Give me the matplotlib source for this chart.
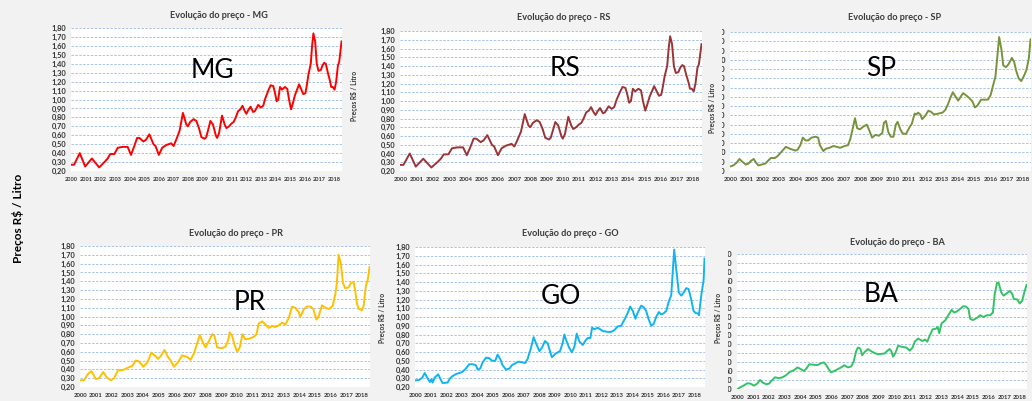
import matplotlib
matplotlib.use("Agg")
import matplotlib.pyplot as plt
from matplotlib.transforms import Bbox, TransformedBbox

W, H = 1032, 401
plt.rcParams['font.family'] = ['Lato', 'DejaVu Sans']

# MG e RS usam a mesma série (os dois gráficos são idênticos)
anos_mg = [0.00, 0.18, 0.57, 0.94, 1.40, 1.90, 2.32, 2.48, 2.66, 2.94, 3.17, 3.51,
           3.85, 4.08, 4.31, 4.50, 4.66, 4.93, 5.11, 5.34, 5.62, 5.76, 5.99, 6.22,
           6.49, 6.83, 7.00, 7.18, 7.41, 7.64, 7.87, 7.98, 8.14, 8.37, 8.56, 8.74,
           8.90, 9.13, 9.24, 9.43, 9.52, 9.70, 9.89, 9.98, 10.11, 10.32, 10.50, 10.62,
           10.80, 10.96, 11.12, 11.26, 11.42, 11.58, 11.72, 11.88, 11.99, 12.11, 12.27, 12.45,
           12.57, 12.80, 12.98, 13.14, 13.30, 13.49, 13.65, 13.83, 13.94, 14.06, 14.17, 14.29,
           14.43, 14.63, 14.79, 14.91, 15.05, 15.16, 15.32, 15.60, 15.73, 15.89, 16.03, 16.12,
           16.24, 16.40, 16.49, 16.58, 16.70, 16.81, 16.93, 17.09, 17.20, 17.32, 17.43, 17.57,
           17.73, 17.80, 17.91, 18.03, 18.14, 18.26, 18.35, 18.42, 18.51]
preco_mg = [0.27, 0.27, 0.40, 0.25, 0.34, 0.24, 0.31, 0.34, 0.39, 0.39, 0.46, 0.47,
            0.47, 0.38, 0.48, 0.57, 0.57, 0.53, 0.55, 0.61, 0.50, 0.48, 0.38, 0.46,
            0.49, 0.51, 0.48, 0.55, 0.65, 0.85, 0.72, 0.70, 0.75, 0.78, 0.76, 0.68,
            0.58, 0.56, 0.58, 0.70, 0.76, 0.72, 0.60, 0.57, 0.62, 0.82, 0.72, 0.68,
            0.70, 0.73, 0.75, 0.80, 0.87, 0.89, 0.93, 0.87, 0.84, 0.88, 0.92, 0.86,
            0.87, 0.94, 0.91, 0.93, 1.02, 1.10, 1.16, 1.15, 1.08, 0.98, 1.00, 1.14,
            1.11, 1.14, 1.12, 1.00, 0.89, 0.95, 1.05, 1.17, 1.12, 1.06, 1.07, 1.15,
            1.28, 1.40, 1.60, 1.74, 1.65, 1.40, 1.32, 1.33, 1.38, 1.41, 1.40, 1.30,
            1.20, 1.14, 1.14, 1.11, 1.20, 1.38, 1.42, 1.52, 1.65]

anos_sp = [0.00, 0.17, 0.38, 0.55, 0.73, 0.94, 1.11, 1.26, 1.43, 1.57, 1.72, 1.93,
           2.14, 2.31, 2.48, 2.73, 2.89, 3.15, 3.40, 3.67, 3.99, 4.13, 4.30, 4.45,
           4.62, 4.78, 4.99, 5.24, 5.39, 5.50, 5.71, 5.87, 6.08, 6.34, 6.55, 6.75,
           7.03, 7.24, 7.38, 7.55, 7.66, 7.80, 7.97, 8.18, 8.39, 8.56, 8.71, 8.92,
           9.13, 9.34, 9.44, 9.57, 9.71, 9.86, 10.03, 10.17, 10.28, 10.45, 10.59, 10.80,
           11.01, 11.16, 11.33, 11.43, 11.54, 11.68, 11.79, 11.96, 12.17, 12.33, 12.52, 12.80,
           13.05, 13.22, 13.38, 13.53, 13.68, 13.85, 14.01, 14.16, 14.31, 14.47, 14.68, 14.89,
           15.04, 15.21, 15.42, 15.63, 15.84, 16.01, 16.15, 16.30, 16.40, 16.53, 16.68, 16.78,
           16.95, 17.10, 17.31, 17.45, 17.58, 17.73, 17.89, 18.04, 18.21, 18.36, 18.46]
preco_sp = [0.25, 0.26, 0.29, 0.33, 0.30, 0.27, 0.28, 0.31, 0.33, 0.29, 0.26, 0.27,
            0.28, 0.31, 0.34, 0.34, 0.36, 0.41, 0.46, 0.44, 0.42, 0.43, 0.48, 0.56,
            0.53, 0.53, 0.56, 0.57, 0.56, 0.48, 0.415, 0.44, 0.45, 0.47, 0.46, 0.45,
            0.47, 0.48, 0.55, 0.68, 0.77, 0.66, 0.65, 0.68, 0.70, 0.63, 0.56, 0.59,
            0.58, 0.61, 0.72, 0.74, 0.62, 0.57, 0.57, 0.70, 0.73, 0.65, 0.605, 0.60,
            0.67, 0.71, 0.82, 0.81, 0.83, 0.81, 0.76, 0.79, 0.85, 0.84, 0.81, 0.82,
            0.83, 0.86, 0.92, 0.99, 1.05, 1.00, 0.96, 1.00, 1.04, 1.02, 0.99, 0.95,
            0.885, 0.91, 0.97, 0.97, 0.97, 1.02, 1.12, 1.215, 1.40, 1.646, 1.50, 1.34,
            1.32, 1.35, 1.42, 1.38, 1.28, 1.20, 1.17, 1.22, 1.29, 1.42, 1.62]

anos_pr = [0.02, 0.23, 0.49, 0.70, 0.98, 1.19, 1.45, 1.68, 1.94, 2.15, 2.40, 2.62,
           2.83, 3.04, 3.32, 3.53, 3.74, 4.02, 4.28, 4.53, 4.74, 4.96, 5.13, 5.38,
           5.60, 5.77, 5.98, 6.23, 6.51, 6.83, 7.04, 7.26, 7.47, 7.64, 7.85, 8.00,
           8.21, 8.43, 8.57, 8.74, 9.06, 9.28, 9.43, 9.55, 9.70, 9.85, 10.02, 10.19,
           10.36, 10.55, 10.83, 11.09, 11.26, 11.40, 11.62, 11.83, 12.04, 12.26, 12.47, 12.68,
           12.89, 13.11, 13.32, 13.53, 13.74, 13.96, 14.06, 14.28, 14.49, 14.74, 14.91, 15.09,
           15.23, 15.45, 15.66, 15.91, 16.13, 16.30, 16.40, 16.51, 16.66, 16.79, 16.94, 17.15,
           17.30, 17.47, 17.57, 17.68, 17.79, 18.00, 18.11, 18.26, 18.38, 18.49]
preco_pr = [0.276, 0.28, 0.35, 0.38, 0.29, 0.30, 0.37, 0.31, 0.276, 0.30, 0.39, 0.39,
            0.40, 0.42, 0.44, 0.50, 0.49, 0.43, 0.48, 0.59, 0.56, 0.52, 0.55, 0.62,
            0.54, 0.50, 0.43, 0.48, 0.56, 0.54, 0.51, 0.58, 0.70, 0.79, 0.70, 0.65,
            0.72, 0.80, 0.78, 0.65, 0.64, 0.66, 0.72, 0.82, 0.78, 0.68, 0.60, 0.65,
            0.80, 0.74, 0.75, 0.77, 0.80, 0.92, 0.945, 0.91, 0.87, 0.895, 0.88, 0.90,
            0.93, 0.91, 0.98, 1.11, 1.10, 1.05, 0.995, 1.08, 1.115, 1.11, 1.08, 0.964,
            1.00, 1.127, 1.10, 1.085, 1.12, 1.25, 1.38, 1.70, 1.60, 1.38, 1.32, 1.33,
            1.38, 1.39, 1.30, 1.15, 1.09, 1.07, 1.12, 1.35, 1.42, 1.56]

anos_go = [0.00, 0.24, 0.45, 0.60, 0.78, 0.93, 1.03, 1.10, 1.25, 1.47, 1.64, 1.75,
           2.07, 2.24, 2.39, 2.65, 2.93, 3.08, 3.25, 3.47, 3.69, 3.90, 4.01, 4.18,
           4.33, 4.55, 4.76, 4.94, 5.15, 5.30, 5.47, 5.62, 5.84, 6.06, 6.23, 6.44,
           6.64, 6.92, 7.09, 7.24, 7.46, 7.63, 7.78, 8.00, 8.17, 8.36, 8.53, 8.75,
           8.81, 9.03, 9.33, 9.50, 9.61, 9.72, 9.89, 10.09, 10.26, 10.41, 10.58, 10.80,
           10.97, 11.12, 11.29, 11.40, 11.55, 11.77, 12.09, 12.41, 12.63, 12.84, 13.06, 13.28,
           13.49, 13.71, 13.86, 14.03, 14.20, 14.35, 14.57, 14.74, 14.89, 15.06, 15.22, 15.37,
           15.54, 15.71, 15.86, 16.01, 16.19, 16.34, 16.51, 16.62, 16.70, 16.83, 17.00, 17.16,
           17.31, 17.48, 17.63, 17.80, 17.95, 18.08, 18.23, 18.30, 18.45, 18.54, 18.60, 18.66]
preco_go = [0.276, 0.28, 0.31, 0.36, 0.30, 0.257, 0.29, 0.25, 0.31, 0.345, 0.28, 0.246,
            0.25, 0.30, 0.325, 0.35, 0.365, 0.38, 0.41, 0.46, 0.46, 0.45, 0.40, 0.41,
            0.48, 0.535, 0.53, 0.50, 0.50, 0.57, 0.52, 0.45, 0.40, 0.41, 0.45, 0.47,
            0.49, 0.48, 0.475, 0.52, 0.65, 0.77, 0.70, 0.61, 0.65, 0.725, 0.70, 0.57,
            0.54, 0.58, 0.61, 0.70, 0.80, 0.74, 0.66, 0.596, 0.66, 0.81, 0.72, 0.68,
            0.73, 0.76, 0.76, 0.878, 0.86, 0.878, 0.84, 0.83, 0.83, 0.85, 0.893, 0.90,
            0.97, 1.05, 1.12, 1.07, 0.98, 1.05, 1.13, 1.11, 1.07, 0.97, 0.90, 0.92,
            1.00, 1.057, 1.03, 1.04, 1.07, 1.17, 1.25, 1.55, 1.77, 1.55, 1.28, 1.244,
            1.28, 1.33, 1.32, 1.20, 1.07, 1.046, 1.04, 1.02, 1.25, 1.35, 1.42, 1.667]

anos_ba = [0.00, 0.19, 0.41, 0.62, 0.83, 1.05, 1.26, 1.43, 1.62, 1.84, 2.01, 2.22,
           2.39, 2.65, 2.86, 3.07, 3.33, 3.61, 3.82, 4.04, 4.25, 4.40, 4.57, 4.83,
           5.10, 5.25, 5.49, 5.64, 5.81, 5.96, 6.17, 6.38, 6.60, 6.81, 7.03, 7.24,
           7.39, 7.56, 7.67, 7.82, 7.94, 8.09, 8.31, 8.52, 8.73, 8.95, 9.16, 9.37,
           9.52, 9.69, 9.80, 9.91, 10.06, 10.23, 10.44, 10.76, 10.98, 11.15, 11.30, 11.51,
           11.79, 11.94, 12.09, 12.26, 12.43, 12.64, 12.75, 12.85, 13.00, 13.22, 13.43, 13.64,
           13.79, 13.96, 14.18, 14.39, 14.56, 14.71, 14.82, 14.99, 15.25, 15.46, 15.67, 15.89,
           16.10, 16.27, 16.38, 16.53, 16.63, 16.81, 16.95, 17.13, 17.34, 17.49, 17.60, 17.81,
           17.98, 18.13, 18.28, 18.41]
preco_ba = [0.20, 0.22, 0.24, 0.263, 0.26, 0.237, 0.26, 0.30, 0.27, 0.252, 0.26, 0.30,
            0.33, 0.32, 0.33, 0.35, 0.39, 0.41, 0.44, 0.42, 0.40, 0.43, 0.474, 0.47,
            0.465, 0.48, 0.496, 0.47, 0.42, 0.385, 0.40, 0.42, 0.44, 0.463, 0.44, 0.45,
            0.50, 0.62, 0.66, 0.65, 0.574, 0.61, 0.644, 0.62, 0.60, 0.585, 0.59, 0.595,
            0.62, 0.644, 0.62, 0.56, 0.60, 0.68, 0.67, 0.66, 0.626, 0.66, 0.73, 0.76,
            0.733, 0.75, 0.726, 0.80, 0.863, 0.87, 0.89, 0.82, 0.93, 0.96, 1.02, 1.08,
            1.05, 1.06, 1.09, 1.12, 1.115, 1.09, 0.98, 0.966, 0.99, 1.02, 1.00, 1.02,
            1.02, 1.05, 1.25, 1.38, 1.38, 1.27, 1.237, 1.26, 1.29, 1.26, 1.20, 1.196,
            1.15, 1.18, 1.28, 1.356]

rotulos_anos = [str(2000 + i) for i in range(19)]

# layout em pixels: (esquerda, direita, topo, base) da área de plotagem
paineis = [
    dict(uf="MG", cor="#ff0000", x=anos_mg, y=preco_mg, box=(71, 342, 28, 171), ymax=1.8,
         titulo=(219, 15), letra=(212, 70), ylab=None, corte=None, fx_ano=4.0),
    dict(uf="RS", cor="#9b3434", x=anos_mg, y=preco_mg, box=(400, 702, 31, 171), ymax=1.8,
         titulo=(564, 17), letra=(565, 68), ylab=(355, 96), corte=None, fx_ano=4.4),
    dict(uf="SP", cor="#77933c", x=anos_sp, y=preco_sp, box=(730, 1031, 32, 171), ymax=1.7,
         titulo=(895, 18), letra=(881, 68), ylab=(713, 108), corte=722, fx_ano=4.4),
    dict(uf="PR", cor="#ffc000", x=anos_pr, y=preco_pr, box=(80, 370, 246, 387), ymax=1.8,
         titulo=(236, 233), letra=(250, 303), ylab=None, corte=None, fx_ano=4.3),
    dict(uf="GO", cor="#10b4f0", x=anos_go, y=preco_go, box=(415, 705, 247, 387), ymax=1.8,
         titulo=(570, 233), letra=(561, 296), ylab=(382, 318), corte=None, fx_ano=4.3),
    dict(uf="BA", cor="#33c266", x=anos_ba, y=preco_ba, box=(737, 1027, 254, 389), ymax=1.7,
         titulo=(897, 242), letra=(881, 294), ylab=(718, 318), corte=728, fx_ano=4.3),
]

fig = plt.figure(figsize=(W / 100, H / 100), dpi=100, facecolor="#f2f2f2")


def fx(px):
    return px / W


def fy(py):
    return 1 - py / H


for p in paineis:
    l, r, t, b = p["box"]
    ax = fig.add_axes([fx(l), fy(b), (r - l) / W, (b - t) / H])
    ax.set_facecolor("white")
    anos = [2000 + a for a in p["x"]]
    ax.plot(anos, p["y"], color=p["cor"], lw=1.4, solid_joinstyle="round")
    ax.set_xlim(1999.97, anos[-1] + 0.03)
    ax.set_ylim(0.2, p["ymax"])
    n = int(round((p["ymax"] - 0.2) / 0.1))
    yt = [0.2 + 0.1 * i for i in range(n + 1)]
    rot = [f"{v:.2f}".replace(".", ",") for v in yt]
    if p["corte"] is not None:
        # rótulos cortados na imagem original: sobra só o fim de cada número
        rot = [s[-2:] for s in rot]
    ax.set_yticks(yt)
    ax.set_yticklabels(rot, fontsize=5.4, fontweight="bold", color="#333333")
    ax.set_xticks(range(2000, 2019))
    ax.set_xticklabels(rotulos_anos, fontsize=p["fx_ano"], fontweight="bold", color="#333333")
    ax.tick_params(length=0, pad=3.5)
    ax.tick_params(axis="x", pad=4.5)
    ax.yaxis.grid(True, color="#a8c4e4", linestyle=(0, (2.5, 1.5)), lw=0.7)
    ax.set_axisbelow(True)
    for s in ax.spines.values():
        s.set_visible(False)

    if p["corte"] is not None:
        caixa = TransformedBbox(Bbox([[fx(p["corte"]), 0], [1, 1]]), fig.transFigure)
        for lab in ax.get_yticklabels():
            lab.set_clip_on(True)
            lab.set_clip_box(caixa)

    fig.text(fx(p["titulo"][0]), fy(p["titulo"][1]), "Evolução do preço - " + p["uf"],
             ha="center", va="center", fontsize=6.6, fontweight="bold", color="#3a3a3a")
    fig.text(fx(p["letra"][0]), fy(p["letra"][1]), p["uf"], ha="center", va="center",
             fontsize=19, color="black")
    if p["ylab"] is not None:
        fig.text(fx(p["ylab"][0]), fy(p["ylab"][1]), "Preços R$ / Litro", rotation=90,
                 ha="center", va="center", fontsize=4.8, fontweight="bold", color="#333333")

fig.text(fx(18), fy(218), "Preços R$ / Litro", rotation=90, ha="center", va="center",
         fontsize=8.5, fontweight="bold", color="black")

fig.savefig("out.png", dpi=100, facecolor=fig.get_facecolor())
